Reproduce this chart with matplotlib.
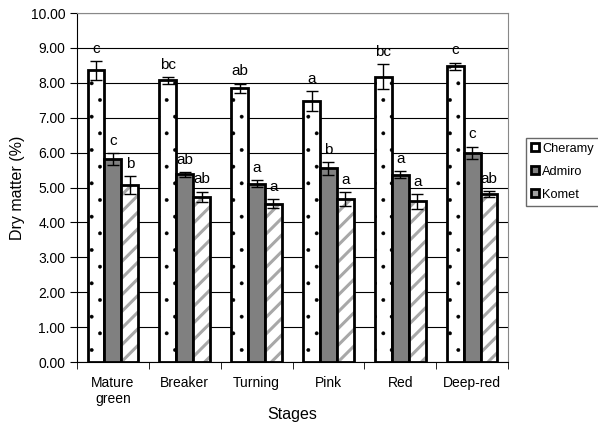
import numpy as np
import matplotlib
matplotlib.use('Agg')
import matplotlib.pyplot as plt
from matplotlib.patches import Patch

plt.rcParams['font.family'] = ['Liberation Sans', 'DejaVu Sans']

stages = ['Mature\ngreen', 'Breaker', 'Turning', 'Pink', 'Red', 'Deep-red']
series = ['Cheramy', 'Admiro', 'Komet']

cheramy = [8.36, 8.07, 7.85, 7.48, 8.18, 8.48]
cheramy_err = [0.27, 0.10, 0.13, 0.28, 0.35, 0.10]
admiro = [5.82, 5.38, 5.11, 5.55, 5.36, 5.99]
admiro_err = [0.17, 0.07, 0.10, 0.18, 0.10, 0.18]
komet = [5.07, 4.73, 4.53, 4.67, 4.60, 4.82]
komet_err = [0.26, 0.15, 0.13, 0.20, 0.22, 0.08]

cheramy_let = ['c', 'bc', 'ab', 'a', 'bc', 'c']
admiro_let = ['c', 'ab', 'a', 'b', 'a', 'c']
komet_let = ['b', 'ab', 'a', 'a', 'a', 'ab']

fig = plt.figure(figsize=(5.98, 4.28), dpi=100)
ax = fig.add_axes([0.1288, 0.1542, 0.7207, 0.8154])

x = np.arange(len(stages))
w = 0.235
ekw = dict(ecolor='black', elinewidth=1, capsize=4, capthick=1)

plt.rcParams['hatch.linewidth'] = 0.3
ax.bar(x - w, cheramy, w, color='white', edgecolor='black', linewidth=2,
       hatch='.', zorder=3)
ax.errorbar(x - w, cheramy, yerr=cheramy_err, fmt='none', zorder=4, **ekw)

ax.bar(x, admiro, w, color='#808080', edgecolor='black', linewidth=2, zorder=3)
ax.errorbar(x, admiro, yerr=admiro_err, fmt='none', zorder=4, **ekw)

plt.rcParams['hatch.linewidth'] = 2.2
ax.bar(x + w, komet, w, color='white', edgecolor='#a8a8a8', linewidth=0,
       hatch='//', zorder=3)
ax.bar(x + w, komet, w, fill=False, edgecolor='black', linewidth=2, zorder=3)
ax.errorbar(x + w, komet, yerr=komet_err, fmt='none', zorder=4, **ekw)

for vals, errs, lets, off in [(cheramy, cheramy_err, cheramy_let, -w),
                              (admiro, admiro_err, admiro_let, 0),
                              (komet, komet_err, komet_let, w)]:
    for i in range(len(stages)):
        ax.text(x[i] + off, vals[i] + errs[i] + 0.15, lets[i],
                ha='center', va='bottom', fontsize=11)

ax.set_ylim(0, 10)
ax.set_xlim(-0.5, len(stages) - 0.5)
ax.set_yticks(np.arange(0, 10.01, 1))
ax.set_yticklabels(['%.2f' % v for v in np.arange(0, 10.01, 1)], fontsize=10)
ax.yaxis.grid(True, color='black', linewidth=0.8)
ax.set_axisbelow(True)

ax.set_xticks(x)
ax.set_xticklabels(stages, fontsize=10)
ax.tick_params(axis='x', length=0, pad=10)
ax.set_xticks(np.arange(-0.5, len(stages)), minor=True)
ax.tick_params(axis='x', which='minor', length=5, direction='out')
ax.tick_params(axis='y', length=5, direction='out')

for s in ['top', 'right']:
    ax.spines[s].set_color('#888888')
for s in ['left', 'bottom']:
    ax.spines[s].set_color('black')

ax.set_ylabel('Dry matter (%)', fontsize=11.5, labelpad=4)
ax.set_xlabel('Stages', fontsize=11.5, labelpad=1)

handles = [Patch(facecolor='white', edgecolor='black', linewidth=2),
           Patch(facecolor='#808080', edgecolor='black', linewidth=2),
           Patch(facecolor='#a0a0a0', edgecolor='black', linewidth=2)]
fig.legend(handles, series, loc='upper left', bbox_to_anchor=(0.88, 0.678),
           fontsize=9.2, frameon=True, fancybox=False, edgecolor='#444444',
           handlelength=0.6, handleheight=0.6, handletextpad=0.25,
           borderpad=0.4, labelspacing=0.85, borderaxespad=0)

fig.savefig('out.png', dpi=100)
